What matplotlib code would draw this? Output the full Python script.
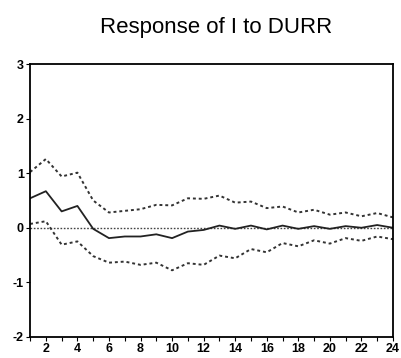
import matplotlib
matplotlib.use("Agg")
from matplotlib import pyplot as plt

periods = list(range(1, 25))
response = [0.54, 0.67, 0.30, 0.40, -0.02, -0.19, -0.16, -0.16, -0.12, -0.19, -0.07, -0.04,
            0.04, -0.02, 0.04, -0.03, 0.04, -0.02, 0.03, -0.02, 0.03, 0.00, 0.05, 0.00]
upper = [1.02, 1.26, 0.94, 1.01, 0.50, 0.28, 0.31, 0.34, 0.42, 0.41, 0.54, 0.53,
         0.59, 0.46, 0.48, 0.36, 0.39, 0.28, 0.33, 0.24, 0.28, 0.21, 0.27, 0.19]
lower = [0.07, 0.12, -0.31, -0.25, -0.52, -0.64, -0.62, -0.68, -0.64, -0.78, -0.65, -0.68,
         -0.51, -0.56, -0.39, -0.45, -0.28, -0.34, -0.23, -0.29, -0.19, -0.24, -0.16, -0.21]
xticklabels = [str(p) for p in periods if p % 2 == 0]
yticks = [-2, -1, 0, 1, 2, 3]

plt.rcParams["font.family"] = ["Liberation Sans", "DejaVu Sans"]

fig = plt.figure(figsize=(4.01, 3.58), dpi=100)
ax = fig.add_axes([0.075, 0.059, 0.905, 0.762])

ax.axhline(0, color="#444444", lw=1.0, ls=(0, (1.2, 1.2)))
ax.plot(periods, upper, color="#333333", lw=1.4, ls=(0, (1.5, 1.5)))
ax.plot(periods, lower, color="#333333", lw=1.4, ls=(0, (1.5, 1.5)))
ax.plot(periods, response, color="#222222", lw=1.3)

ax.set_xlim(1, 24)
ax.set_ylim(-2, 3)
ax.set_xticks(periods, minor=True)
ax.set_xticks([p for p in periods if p % 2 == 0])
ax.set_xticklabels(xticklabels, fontsize=9, fontweight="bold")
ax.set_yticks(yticks)
ax.set_yticklabels([str(v) for v in yticks], fontsize=9, fontweight="bold")
ax.tick_params(axis="both", which="both", direction="out", length=3, width=0.8, pad=1.5)
for s in ax.spines.values():
    s.set_linewidth(1.3)

fig.text(0.538, 0.908, "Response of I to DURR", ha="center", va="baseline", fontsize=16)
fig.savefig("out.png", dpi=100)
